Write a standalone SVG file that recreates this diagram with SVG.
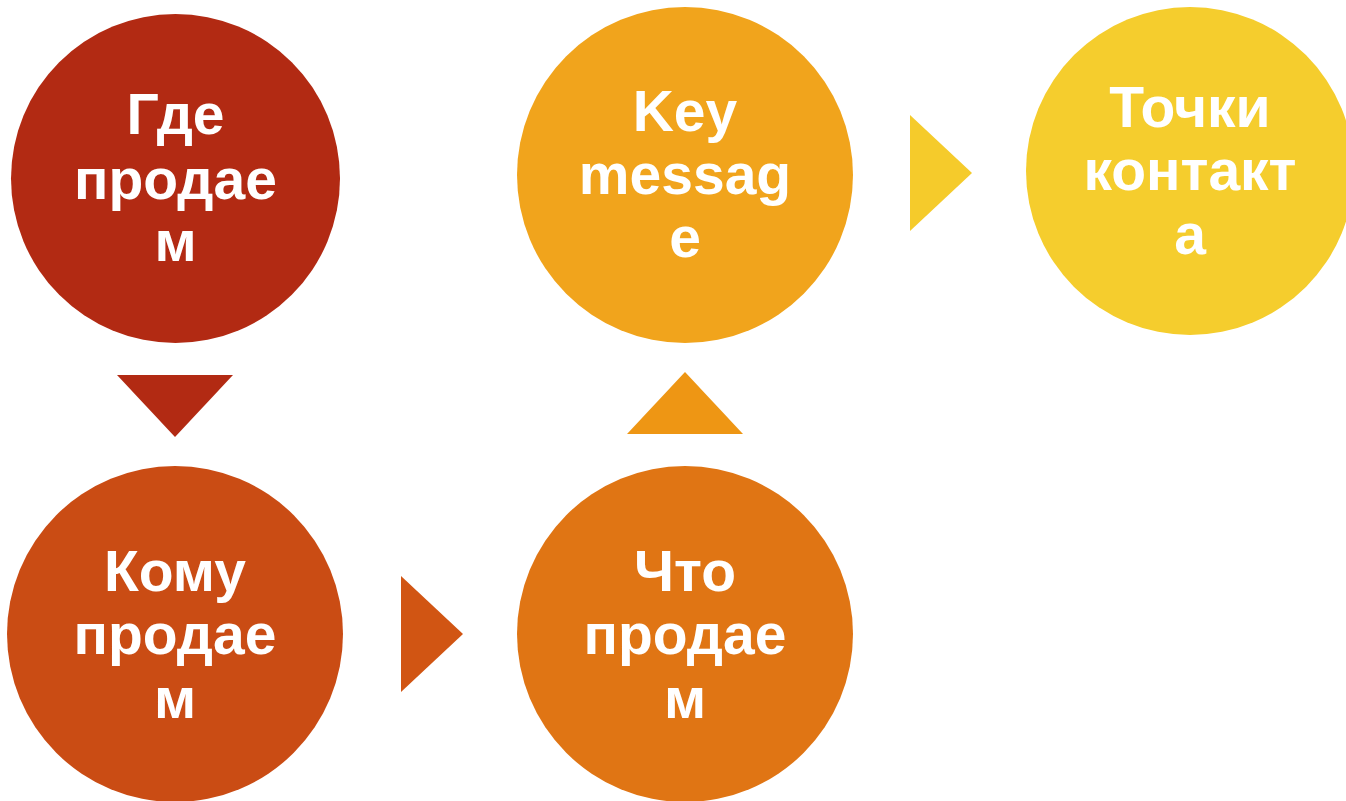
<svg xmlns="http://www.w3.org/2000/svg" width="1346" height="801" viewBox="0 0 1346 801">
<style>
.t{font-family:"Liberation Sans",Arial,sans-serif;font-weight:bold;font-size:57px;fill:#ffffff;text-anchor:middle}
</style>
<rect width="1346" height="801" fill="#ffffff"/>
<g id="connectors">
<polygon points="117,375 233,375 175,437" fill="#B22A13"/>
<polygon points="401,576 401,692 463,634" fill="#D15513"/>
<polygon points="627,434 743,434 685,372" fill="#EE9614"/>
<polygon points="910,115 910,231 972,173" fill="#F5CB2B"/>
</g>
<g id="n1">
<circle cx="175.5" cy="178.5" r="164.5" fill="#B22A13"/>
<text class="t" x="175.5" y="134">Где</text>
<text class="t" x="175.5" y="199">продае</text>
<text class="t" x="175.5" y="261">м</text>
</g>
<g id="n2">
<circle cx="175" cy="634" r="168" fill="#CA4C14"/>
<text class="t" x="175" y="591">Кому</text>
<text class="t" x="175" y="654">продае</text>
<text class="t" x="175" y="718">м</text>
</g>
<g id="n3">
<circle cx="685" cy="634" r="168" fill="#E07514"/>
<text class="t" x="685" y="591">Что</text>
<text class="t" x="685" y="654">продае</text>
<text class="t" x="685" y="718">м</text>
</g>
<g id="n4">
<circle cx="685" cy="175" r="168" fill="#F1A41C"/>
<text class="t" x="685" y="131">Key</text>
<text class="t" x="685" y="194">messag</text>
<text class="t" x="685" y="257">e</text>
</g>
<g id="n5">
<circle cx="1190" cy="171" r="164" fill="#F5CD2D"/>
<text class="t" x="1190" y="127">Точки</text>
<text class="t" x="1190" y="190">контакт</text>
<text class="t" x="1190" y="254">а</text>
</g>
</svg>
